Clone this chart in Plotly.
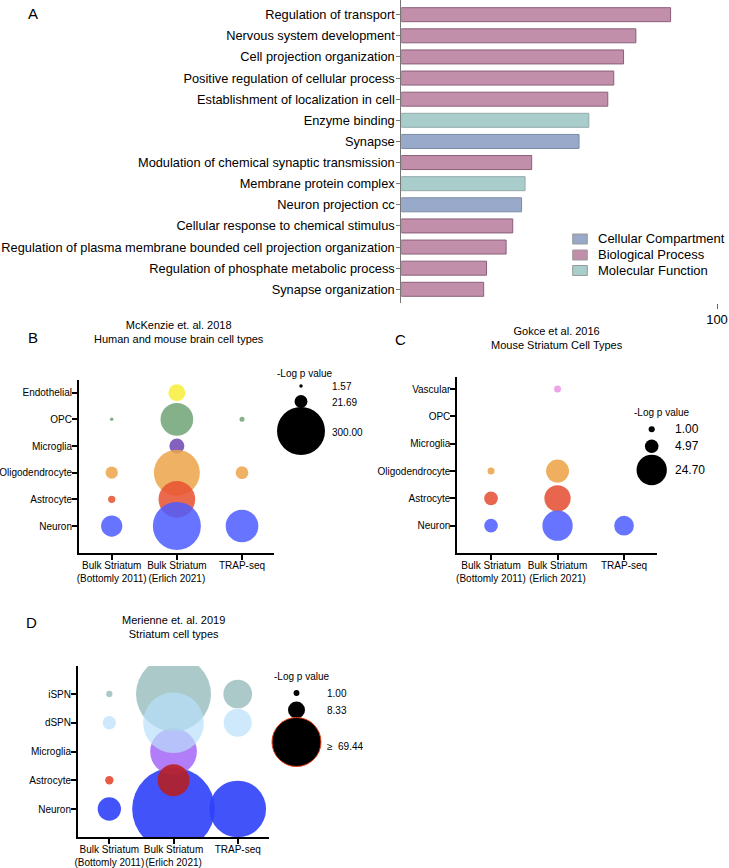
import plotly.graph_objects as go

W, H = 729, 868
FONT = "Liberation Sans, Arial, Helvetica, sans-serif"

# ---------------- Panel A data ----------------
go_terms = ["Regulation of transport", "Nervous system development", "Cell projection organization",
            "Positive regulation of cellular process", "Establishment of localization in cell",
            "Enzyme binding", "Synapse", "Modulation of chemical synaptic transmission",
            "Membrane protein complex", "Neuron projection cc", "Cellular response to chemical stimulus",
            "Regulation of plasma membrane bounded cell projection organization",
            "Regulation of phosphate metabolic process", "Synapse organization"]
go_scores = [85.3, 74.3, 70.4, 67.3, 65.4, 59.4, 56.3, 41.3, 39.2, 38.1, 35.3, 33.2, 27.0, 26.1]
go_types = ["Biological Process", "Biological Process", "Biological Process", "Biological Process",
            "Biological Process", "Molecular Function", "Cellular Compartment", "Biological Process",
            "Molecular Function", "Cellular Compartment", "Biological Process", "Biological Process",
            "Biological Process", "Biological Process"]
go_type_order = ["Cellular Compartment", "Biological Process", "Molecular Function"]
go_type_colors = {"Cellular Compartment": "#98a9c9", "Biological Process": "#c28fab",
                  "Molecular Function": "#a8cdca"}
go_type_lines = {"Cellular Compartment": "#7d8aa6", "Biological Process": "#8a5f78",
                 "Molecular Function": "#93aaa8"}

# ---------------- Bubble panels data ----------------
datasets = ["Bulk Striatum<br>(Bottomly 2011)", "Bulk Striatum<br>(Erlich 2021)", "TRAP-seq"]

# Panel B: McKenzie (values = -log p per dataset, None = not significant)
b_cells = ["Neuron", "Astrocyte", "Oligodendrocyte", "Microglia", "OPC", "Endothelial"]
b_neuron = [59.0, 300.0, 139.0]
b_astro = [6.9, 175.0, None]
b_oligo = [19.7, 276.0, 21.0]
b_micro = [None, 29.3, None]
b_opc = [1.57, 139.0, 3.26]
b_endo = [None, 37.6, None]
b_legend = [1.57, 21.69, 300.00]

# Panel C: Gokce
c_cells = ["Neuron", "Astrocyte", "Oligodendrocyte", "Microglia", "OPC", "Vascular"]
c_neuron = [5.0, 24.7, 10.4]
c_astro = [5.04, 18.6, None]
c_oligo = [1.32, 14.2, None]
c_micro = [None, None, None]
c_opc = [None, None, None]
c_vasc = [None, 1.32, None]
c_legend = [1.00, 4.97, 24.70]

# Panel D: Merienne
d_cells = ["Neuron", "Astrocyte", "Microglia", "dSPN", "iSPN"]
d_neuron = [15.7, 197.8, 93.0]
d_astro = [2.0, 29.6, None]
d_micro = [None, 63.1, None]
d_dspn = [5.1, 106.6, 22.7]
d_ispn = [1.15, 162.7, 23.8]
d_legend = [1.00, 8.33, 69.44]


def fx(px):
    return px / W


def fy(py):
    return 1 - py / H


fig = go.Figure()

# ---------------- Panel A ----------------
for t in go_type_order:
    ys = [term for term, ty in zip(go_terms, go_types) if ty == t]
    xs = [s for s, ty in zip(go_scores, go_types) if ty == t]
    fig.add_trace(go.Bar(x=xs, y=ys, orientation="h", name=t, xaxis="x", yaxis="y",
                         showlegend=False,
                         marker=dict(color=go_type_colors[t],
                                     line=dict(color=go_type_lines[t], width=1))))

shapes = []
annotations = []
# legend for panel A (boxes + labels)
leg_rows = [239, 255, 270.5]
for t, cy in zip(go_type_order, leg_rows):
    shapes.append(dict(type="rect", xref="paper", yref="paper", x0=fx(572.7), x1=fx(587.3),
                       y0=fy(cy + 5), y1=fy(cy - 5), fillcolor=go_type_colors[t],
                       line=dict(color="#9a9a9a", width=1)))
    annotations.append(dict(x=fx(596.2), y=fy(cy), xref="paper", yref="paper", text=t,
                            showarrow=False, xanchor="left", yanchor="middle",
                            font=dict(size=13, color="black", family=FONT)))


# ---------------- Bubble helper ----------------
def add_bubbles(cells_vals, cells, xa, ya, sizeref):
    # invisible trace registering every category
    fig.add_trace(go.Scatter(x=[datasets[0]] * len(cells), y=cells, mode="markers",
                             marker=dict(size=1, opacity=0), xaxis=xa, yaxis=ya,
                             showlegend=False, hoverinfo="skip"))
    for cell, vals, color, op in cells_vals:
        keep = [i for i, v in enumerate(vals) if v is not None]
        if not keep:
            continue
        xs = [datasets[i] for i in keep]
        ss = [vals[i] for i in keep]
        col = [color[i] for i in keep] if isinstance(color, list) else color
        fig.add_trace(go.Scatter(x=xs, y=[cell] * len(xs), mode="markers", xaxis=xa, yaxis=ya,
                                 showlegend=False,
                                 marker=dict(size=ss, sizemode="area", sizeref=sizeref,
                                             color=col, opacity=op, line=dict(width=0))))


SR_B = 2 * b_legend[-1] / 48 ** 2
SR_C = 2 * c_legend[-1] / 30.3 ** 2
SR_D = 2 * d_legend[-1] / 49 ** 2

add_bubbles([("Endothelial", b_endo, "#f6ef3a", 0.85),
             ("OPC", b_opc, "#6fa374", 0.85),
             ("Microglia", b_micro, "#6e45b0", 0.85),
             ("Oligodendrocyte", b_oligo, "#eca54a", 0.85),
             ("Astrocyte", b_astro, "#e8502f", 0.85),
             ("Neuron", b_neuron, "#4c5cff", 0.85)], b_cells, "x2", "y2", SR_B)

add_bubbles([("Vascular", c_vasc, "#ec9be4", 0.9),
             ("OPC", c_opc, "#6fa374", 0.9),
             ("Microglia", c_micro, "#6e45b0", 0.9),
             ("Oligodendrocyte", c_oligo, "#eda64e", 0.9),
             ("Astrocyte", c_astro, "#e5553a", 0.9),
             ("Neuron", c_neuron, "#5565ff", 0.9)], c_cells, "x3", "y3", SR_C)

add_bubbles([("Neuron", d_neuron, "#2f40fa", 0.9),
             ("Microglia", d_micro, "#9f5cf6", 0.8),
             ("Astrocyte", d_astro, ["#e4432a", "#b81e1e", "#e4432a"], 0.88),
             ("iSPN", d_ispn, "#8fb7b7", 0.75),
             ("dSPN", d_dspn, "#b9e0fb", 0.7)], d_cells, "x4", "y4", SR_D)

# ---------------- Size legends (overlay axis in pixel units) ----------------
size_legends = [
    dict(vals=b_legend, sr=SR_B, x=301, ys=[386, 401.5, 431], lx=330, lys=[386, 402.7, 432.7],
         title=(304, 373), fs=10, prefix=["", "", ""], line=None),
    dict(vals=c_legend, sr=SR_C, x=651.7, ys=[429.3, 446.3, 470], lx=672.7, lys=[429.3, 446.3, 470],
         title=(661, 412.7), fs=12, prefix=["", "", ""], line=None),
    dict(vals=d_legend, sr=SR_D, x=296.5, ys=[693, 710, 742], lx=325, lys=[693.3, 710.7, 746],
         title=(301.7, 676.7), fs=10, prefix=["", "", "\u2265  "], line="#e8401c"),
]
for lg in size_legends:
    lw = [0, 0, 1 if lg["line"] else 0]
    fig.add_trace(go.Scatter(x=[lg["x"]] * 3, y=lg["ys"], mode="markers", xaxis="x5", yaxis="y5",
                             showlegend=False, hoverinfo="skip", cliponaxis=False,
                             marker=dict(size=lg["vals"], sizemode="area", sizeref=lg["sr"],
                                         color="black", opacity=1,
                                         line=dict(color=lg["line"] or "black", width=lw))))
    annotations.append(dict(x=fx(lg["title"][0]), y=fy(lg["title"][1]), xref="paper", yref="paper",
                            text="-Log p value", showarrow=False, xanchor="center", yanchor="middle",
                            font=dict(size=10, color="black", family=FONT)))
    for v, ly, pre in zip(lg["vals"], lg["lys"], lg["prefix"]):
        annotations.append(dict(x=fx(lg["lx"]), y=fy(ly), xref="paper", yref="paper",
                                text=f"{pre}{v:.2f}", showarrow=False, xanchor="left",
                                yanchor="middle", font=dict(size=lg["fs"] if not pre else 10,
                                                            color="black", family=FONT)))

# ---------------- Titles and panel letters ----------------
titles = [("McKenzie et. al. 2018<br>Human and mouse brain cell types", 178.5, 332),
          ("Gokce et al. 2016<br>Mouse Striatum Cell Types", 556.8, 337.5),
          ("Merienne et. al. 2019<br>Striatum cell types", 173, 627)]
for txt, x, y in titles:
    annotations.append(dict(x=fx(x), y=fy(y), xref="paper", yref="paper", text=txt, showarrow=False,
                            xanchor="center", yanchor="middle",
                            font=dict(size=11, color="black", family=FONT)))
letters = [("A", 33, 13), ("B", 32.7, 337.3), ("C", 400, 339), ("D", 32, 622.7)]
for txt, x, y in letters:
    annotations.append(dict(x=fx(x), y=fy(y), xref="paper", yref="paper", text=txt, showarrow=False,
                            xanchor="center", yanchor="middle",
                            font=dict(size=15, color="black", family=FONT)))

# ---------------- Axes ----------------
bubble_x = dict(type="category", categoryorder="array", categoryarray=datasets, showgrid=False,
                zeroline=False, showline=True, linecolor="black", linewidth=2, ticks="outside",
                ticklen=5, tickwidth=1.5, tickcolor="black", tickangle=0, automargin=False,
                ticklabelstandoff=-3,
                tickfont=dict(size=10, color="black", family=FONT), fixedrange=True)
bubble_y = dict(type="category", categoryorder="array", showgrid=False, zeroline=False,
                showline=True, linecolor="black", linewidth=2, ticks="outside", ticklen=5,
                tickwidth=1.5, tickcolor="black", automargin=False, ticklabelstandoff=-2,
                tickfont=dict(size=10, color="black", family=FONT), fixedrange=True)

layout = dict(
    width=W, height=H, margin=dict(l=0, r=0, t=0, b=0, autoexpand=False),
    paper_bgcolor="white", plot_bgcolor="rgba(0,0,0,0)",
    font=dict(family=FONT, color="black"),
    barmode="overlay", bargap=0.337,
    showlegend=False,
    xaxis=dict(domain=[fx(401.3), fx(717)], range=[0, 100], anchor="y", showgrid=False,
               zeroline=False, showline=False, ticks="outside", tickvals=[100], ticklen=5,
               tickcolor="#666", automargin=False,
               tickfont=dict(size=13, color="black", family=FONT), fixedrange=True),
    yaxis=dict(domain=[fy(302.7), 1.0], type="category", categoryorder="array",
               categoryarray=go_terms[::-1], range=[-0.634, 13.695], anchor="x", showgrid=False,
               zeroline=False, showline=True, linecolor="#777", linewidth=1, ticks="outside",
               ticklen=4, tickcolor="#777", automargin=False, ticklabelstandoff=-1,
               tickfont=dict(size=12.8, color="black", family=FONT), fixedrange=True),
    xaxis2=dict(bubble_x, domain=[fx(79), fx(274)], range=[-0.502, 2.491], anchor="y2"),
    yaxis2=dict(bubble_y, domain=[fy(552.7), fy(380)], categoryarray=b_cells,
                range=[-1.0, 5.476], anchor="x2"),
    xaxis3=dict(bubble_x, domain=[fx(457.3), fx(657.3)], range=[-0.507, 2.50], anchor="y3"),
    yaxis3=dict(bubble_y, domain=[fy(552.7), fy(376.7)], categoryarray=c_cells,
                range=[-0.988, 5.45], anchor="x3"),
    xaxis4=dict(bubble_x, domain=[fx(78), fx(269.3)], range=[-0.488, 2.492], anchor="y4"),
    yaxis4=dict(bubble_y, domain=[fy(837.3), fy(666)], categoryarray=d_cells,
                range=[-0.984, 4.974], anchor="x4"),
    xaxis5=dict(domain=[0, 1], range=[0, W], visible=False, anchor="y5", fixedrange=True,
                automargin=False),
    yaxis5=dict(domain=[0, 1], range=[H, 0], visible=False, anchor="x5", fixedrange=True,
                automargin=False),
    annotations=annotations,
    shapes=shapes,
)
fig.update_layout(**layout)
fig.write_html("out.html", config={"displayModeBar": False},
               post_script="document.body.style.margin='0px';document.body.style.overflow='hidden';")
